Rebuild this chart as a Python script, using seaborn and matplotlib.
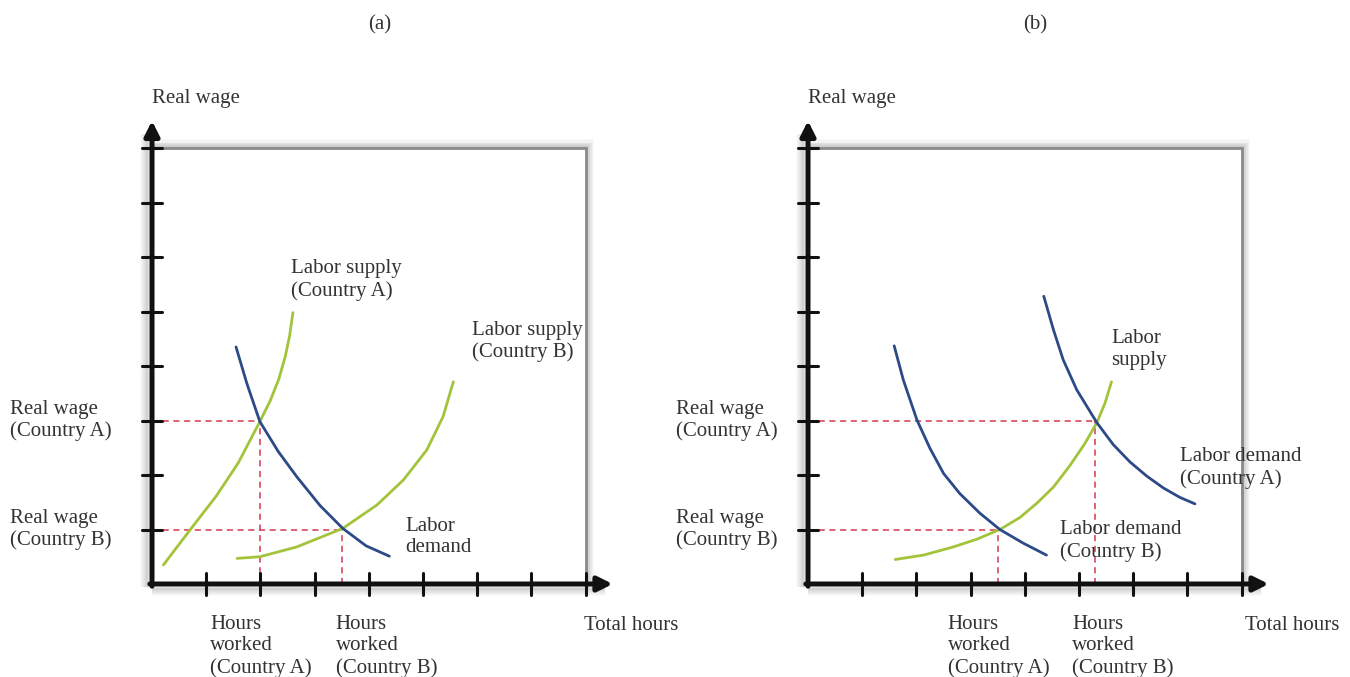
import numpy as np
import pandas as pd
import matplotlib
matplotlib.use('Agg')
import matplotlib.pyplot as plt
import seaborn as sns

# Curve points (x = hours ticks, y = wage ticks)
supply_a_x = [0.21, 0.70, 1.19, 1.59, 1.99, 2.18, 2.34, 2.46, 2.54, 2.60]
supply_a_y = [0.35, 0.99, 1.62, 2.22, 2.98, 3.36, 3.76, 4.18, 4.56, 4.98]

demand_x = [1.55, 1.75, 1.99, 2.33, 2.67, 3.10, 3.52, 3.95, 4.38]
demand_y = [4.35, 3.68, 2.98, 2.43, 1.97, 1.44, 1.02, 0.70, 0.51]

supply_b_x = [1.57, 1.99, 2.67, 3.52, 4.15, 4.64, 5.07, 5.37, 5.56]
supply_b_y = [0.47, 0.50, 0.68, 1.02, 1.45, 1.91, 2.46, 3.07, 3.71]

# panel (b)
demand_b_x = [1.59, 1.76, 2.01, 2.25, 2.50, 2.80, 3.17, 3.54, 3.97, 4.40]
demand_b_y = [4.37, 3.74, 3.01, 2.49, 2.03, 1.66, 1.30, 1.00, 0.75, 0.53]

demand_a_x = [4.35, 4.53, 4.71, 4.96, 5.33, 5.63, 5.94, 6.25, 6.56, 6.86, 7.14]
demand_a_y = [5.28, 4.66, 4.11, 3.56, 2.96, 2.56, 2.24, 1.98, 1.76, 1.59, 1.47]

supply_x = [1.61, 2.13, 2.68, 3.11, 3.54, 3.91, 4.22, 4.53, 4.83, 5.11, 5.33, 5.48, 5.60]
supply_y = [0.45, 0.53, 0.68, 0.82, 1.00, 1.22, 1.48, 1.78, 2.17, 2.58, 2.96, 3.32, 3.71]

# equilibria (hours, wage)
eq_a = [(2.0, 3.0), (3.5, 1.0)]
eq_b = [(5.3, 3.0), (3.5, 1.0)]

tick_positions = [1, 2, 3, 4, 5, 6, 7, 8]

GREEN = '#a3c43a'
BLUE = '#2d4a88'
RED = '#d8384c'
TEXT = '#333333'

sns.set_theme(style='white')
plt.rcParams['font.family'] = ['Liberation Serif', 'DejaVu Serif']

FS = 15
LS = 1.18


def draw_frame(ax):
    # white square with a soft grey shadow on top / right and round the axes
    for i in range(8):
        off = i * 0.02
        a = 0.24 * (1 - i / 8)
        ax.plot([0, 8 + off], [8 + off, 8 + off], color='#555555', alpha=a, lw=1.2,
                solid_capstyle='butt', zorder=1)
        ax.plot([8 + off, 8 + off], [-0.05, 8 + off], color='#555555', alpha=a, lw=1.2,
                solid_capstyle='butt', zorder=1)
        ax.plot([-0.07 - off, -0.07 - off], [-0.05, 8.25], color='#555555', alpha=a * 0.8,
                lw=1.2, solid_capstyle='butt', zorder=1)
        ax.plot([0, 8.35], [-0.07 - off, -0.07 - off], color='#555555', alpha=a * 0.8,
                lw=1.2, solid_capstyle='butt', zorder=1)
    ax.plot([0, 8], [8, 8], color='#8a8a8a', lw=2.0, zorder=2)
    ax.plot([8, 8], [0, 8], color='#8a8a8a', lw=2.0, zorder=2)

    # axes with arrows
    ax.annotate('', xy=(0, 8.5), xytext=(0, -0.04),
                arrowprops=dict(arrowstyle='-|>', lw=3.6, color='#111111',
                                mutation_scale=22, shrinkA=0, shrinkB=0), zorder=5)
    ax.annotate('', xy=(8.5, 0), xytext=(-0.04, 0),
                arrowprops=dict(arrowstyle='-|>', lw=3.6, color='#111111',
                                mutation_scale=22, shrinkA=0, shrinkB=0), zorder=5)
    for t in tick_positions:
        ax.plot([-0.18, 0.18], [t, t], color='#111111', lw=2.2, zorder=5)
        ax.plot([t, t], [-0.2, 0.2], color='#111111', lw=2.2, zorder=5)


def draw_guides(ax, points):
    for hx, wy in points:
        ax.plot([0, hx], [wy, wy], color=RED, lw=1.1, ls=(0, (4, 3)), zorder=3)
        ax.plot([hx, hx], [0, wy], color=RED, lw=1.1, ls=(0, (4, 3)), zorder=3)


def curve(ax, xs, ys, color):
    df = pd.DataFrame({'x': xs, 'y': ys})
    sns.lineplot(data=df, x='x', y='y', ax=ax, color=color, lw=2.0,
                 sort=False, estimator=None, zorder=4)


def label(ax, x, y, s, **kw):
    ax.text(x, y, s, ha='left', va='center', fontsize=FS, color=TEXT,
            linespacing=LS, **kw)


fig = plt.figure(figsize=(13.5, 6.77), dpi=100)
ax_a = fig.add_axes([0, 0, 0.5, 1])
ax_b = fig.add_axes([0.5, 0, 0.5, 1])

# origin at px (152, 584) / (808, 584); 54.2 px per x unit, 54.5 px per y unit
ax_a.set_xlim(-152 / 54.2, (675 - 152) / 54.2)
ax_a.set_ylim((584 - 677) / 54.5, 584 / 54.5)
ax_b.set_xlim((675 - 808) / 54.2, (1350 - 808) / 54.2)
ax_b.set_ylim((584 - 677) / 54.5, 584 / 54.5)

for ax in (ax_a, ax_b):
    ax.axis('off')
    draw_frame(ax)

# ---- panel (a)
draw_guides(ax_a, eq_a)
curve(ax_a, supply_a_x, supply_a_y, GREEN)
curve(ax_a, supply_b_x, supply_b_y, GREEN)
curve(ax_a, demand_x, demand_y, BLUE)

ax_a.text(4.2, 10.26, '(a)', ha='center', va='center', fontsize=15, color=TEXT)
label(ax_a, 0.0, 8.9, 'Real wage')
label(ax_a, 2.56, 5.58, 'Labor supply\n(Country A)')
label(ax_a, 5.9, 4.45, 'Labor supply\n(Country B)')
label(ax_a, 4.67, 0.86, 'Labor\ndemand')
label(ax_a, -2.62, 3.0, 'Real wage\n(Country A)')
label(ax_a, -2.62, 1.0, 'Real wage\n(Country B)')
label(ax_a, 1.07, -1.14, 'Hours\nworked\n(Country A)')
label(ax_a, 3.39, -1.14, 'Hours\nworked\n(Country B)')
label(ax_a, 7.97, -0.77, 'Total hours')

# ---- panel (b)
draw_guides(ax_b, eq_b)
curve(ax_b, supply_x, supply_y, GREEN)
curve(ax_b, demand_b_x, demand_b_y, BLUE)
curve(ax_b, demand_a_x, demand_a_y, BLUE)

ax_b.text(4.19, 10.26, '(b)', ha='center', va='center', fontsize=15, color=TEXT)
label(ax_b, 0.0, 8.9, 'Real wage')
label(ax_b, 5.6, 4.3, 'Labor\nsupply')
label(ax_b, 6.86, 2.13, 'Labor demand\n(Country A)')
label(ax_b, 4.65, 0.79, 'Labor demand\n(Country B)')
label(ax_b, -2.44, 3.0, 'Real wage\n(Country A)')
label(ax_b, -2.44, 1.0, 'Real wage\n(Country B)')
label(ax_b, 2.58, -1.14, 'Hours\nworked\n(Country A)')
label(ax_b, 4.87, -1.14, 'Hours\nworked\n(Country B)')
label(ax_b, 8.06, -0.77, 'Total hours')

fig.savefig('out.png', dpi=100, facecolor='white')
plt.close(fig)
